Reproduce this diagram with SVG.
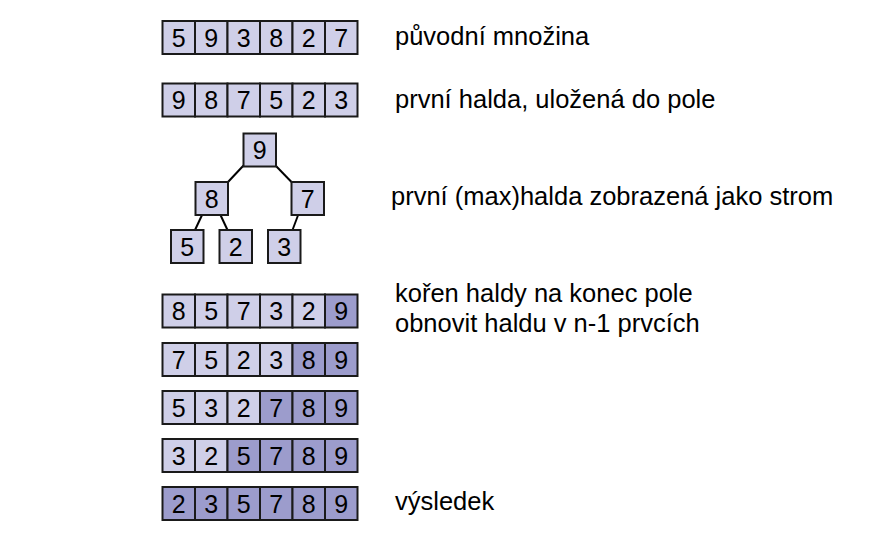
<svg xmlns="http://www.w3.org/2000/svg" width="873" height="556" viewBox="0 0 873 556">
<style>
.c{fill:#CFCFE8;stroke:#1a1a1a;stroke-width:2}
.d{fill:#9C9CCC;stroke:#1a1a1a;stroke-width:2}
.n{font-family:"Liberation Sans",Arial,sans-serif;font-size:25px;text-anchor:middle;fill:#000}
.l{font-family:"Liberation Sans",Arial,sans-serif;font-size:25.5px;fill:#000}
.e{stroke:#000;stroke-width:2;fill:none}
</style>
<rect width="873" height="556" fill="#fff"/>
<defs>
<rect id="L" class="c" width="32.5" height="33"/>
<rect id="D" class="d" width="32.5" height="33"/>
</defs>

<g id="row-original">
<use href="#L" x="162.5" y="21"/><use href="#L" x="195" y="21"/><use href="#L" x="227.5" y="21"/><use href="#L" x="260" y="21"/><use href="#L" x="292.5" y="21"/><use href="#L" x="325" y="21"/>
<text class="n" x="178.75" y="46.5">5</text><text class="n" x="211.25" y="46.5">9</text><text class="n" x="243.75" y="46.5">3</text><text class="n" x="276.25" y="46.5">8</text><text class="n" x="308.75" y="46.5">2</text><text class="n" x="341.25" y="46.5">7</text>
</g>
<text class="l" x="395" y="44.5">původní množina</text>

<g id="row-heap">
<use href="#L" x="162.5" y="83.5"/><use href="#L" x="195" y="83.5"/><use href="#L" x="227.5" y="83.5"/><use href="#L" x="260" y="83.5"/><use href="#L" x="292.5" y="83.5"/><use href="#L" x="325" y="83.5"/>
<text class="n" x="178.75" y="109">9</text><text class="n" x="211.25" y="109">8</text><text class="n" x="243.75" y="109">7</text><text class="n" x="276.25" y="109">5</text><text class="n" x="308.75" y="109">2</text><text class="n" x="341.25" y="109">3</text>
</g>
<text class="l" x="395" y="108">první halda, uložená do pole</text>

<g id="edges">
<line class="e" x1="243.5" y1="165.5" x2="228" y2="182"/>
<line class="e" x1="275.5" y1="165.5" x2="291.5" y2="182"/>
<line class="e" x1="202.5" y1="214" x2="195" y2="230"/>
<line class="e" x1="220" y1="214" x2="227.5" y2="230"/>
<line class="e" x1="298.5" y1="214" x2="292.5" y2="230"/>
</g>
<g id="t9"><use href="#L" x="243.5" y="133.5"/><text class="n" x="259.75" y="159">9</text></g>
<g id="t8"><use href="#L" x="195.5" y="182"/><text class="n" x="211.75" y="207.5">8</text></g>
<g id="t7"><use href="#L" x="291.5" y="182"/><text class="n" x="307.75" y="207.5">7</text></g>
<g id="t5"><use href="#L" x="171" y="230"/><text class="n" x="187.25" y="255.5">5</text></g>
<g id="t2"><use href="#L" x="219.5" y="230"/><text class="n" x="235.75" y="255.5">2</text></g>
<g id="t3"><use href="#L" x="268" y="230"/><text class="n" x="284.25" y="255.5">3</text></g>
<text class="l" x="391" y="204.5">první (max)halda zobrazená jako strom</text>

<g id="row-s1">
<use href="#L" x="162.5" y="294.5"/><use href="#L" x="195" y="294.5"/><use href="#L" x="227.5" y="294.5"/><use href="#L" x="260" y="294.5"/><use href="#L" x="292.5" y="294.5"/><use href="#D" x="325" y="294.5"/>
<text class="n" x="178.75" y="320">8</text><text class="n" x="211.25" y="320">5</text><text class="n" x="243.75" y="320">7</text><text class="n" x="276.25" y="320">3</text><text class="n" x="308.75" y="320">2</text><text class="n" x="341.25" y="320">9</text>
</g>
<text class="l" x="395" y="301.5">kořen haldy na konec pole</text>
<text class="l" x="395" y="331.5">obnovit haldu v n-1 prvcích</text>

<g id="row-s2">
<use href="#L" x="162.5" y="343"/><use href="#L" x="195" y="343"/><use href="#L" x="227.5" y="343"/><use href="#L" x="260" y="343"/><use href="#D" x="292.5" y="343"/><use href="#D" x="325" y="343"/>
<text class="n" x="178.75" y="368.5">7</text><text class="n" x="211.25" y="368.5">5</text><text class="n" x="243.75" y="368.5">2</text><text class="n" x="276.25" y="368.5">3</text><text class="n" x="308.75" y="368.5">8</text><text class="n" x="341.25" y="368.5">9</text>
</g>

<g id="row-s3">
<use href="#L" x="162.5" y="391"/><use href="#L" x="195" y="391"/><use href="#L" x="227.5" y="391"/><use href="#D" x="260" y="391"/><use href="#D" x="292.5" y="391"/><use href="#D" x="325" y="391"/>
<text class="n" x="178.75" y="416.5">5</text><text class="n" x="211.25" y="416.5">3</text><text class="n" x="243.75" y="416.5">2</text><text class="n" x="276.25" y="416.5">7</text><text class="n" x="308.75" y="416.5">8</text><text class="n" x="341.25" y="416.5">9</text>
</g>

<g id="row-s4">
<use href="#L" x="162.5" y="439"/><use href="#L" x="195" y="439"/><use href="#D" x="227.5" y="439"/><use href="#D" x="260" y="439"/><use href="#D" x="292.5" y="439"/><use href="#D" x="325" y="439"/>
<text class="n" x="178.75" y="464.5">3</text><text class="n" x="211.25" y="464.5">2</text><text class="n" x="243.75" y="464.5">5</text><text class="n" x="276.25" y="464.5">7</text><text class="n" x="308.75" y="464.5">8</text><text class="n" x="341.25" y="464.5">9</text>
</g>

<g id="row-result">
<use href="#D" x="162.5" y="487"/><use href="#D" x="195" y="487"/><use href="#D" x="227.5" y="487"/><use href="#D" x="260" y="487"/><use href="#D" x="292.5" y="487"/><use href="#D" x="325" y="487"/>
<text class="n" x="178.75" y="512.5">2</text><text class="n" x="211.25" y="512.5">3</text><text class="n" x="243.75" y="512.5">5</text><text class="n" x="276.25" y="512.5">7</text><text class="n" x="308.75" y="512.5">8</text><text class="n" x="341.25" y="512.5">9</text>
</g>
<text class="l" x="395" y="509.5">výsledek</text>
</svg>
